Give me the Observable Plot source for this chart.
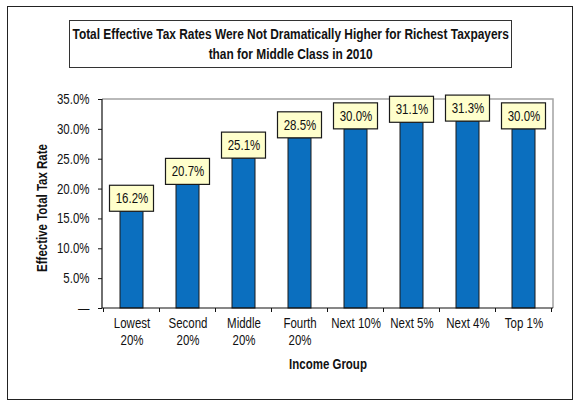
<!DOCTYPE html>
<html>
<head>
<meta charset="utf-8">
<script src="https://cdn.jsdelivr.net/npm/d3@7"></script>
<script src="https://cdn.jsdelivr.net/npm/@observablehq/plot@0.6"></script>
<style>
  html, body { margin: 0; padding: 0; background: #fff; }
  #wrap { position: relative; width: 580px; height: 410px; overflow: hidden;
          font-family: "Liberation Sans", Arial, sans-serif; }
  #outer { position: absolute; left: 7px; top: 6px; width: 564px; height: 392px;
           border: 1.5px solid #222; box-sizing: content-box; pointer-events: none; }
  #title { position: absolute; left: 69px; top: 20px; width: 443px; height: 48px; box-sizing: border-box;
           border: 1.5px solid #333; background: #fff; display: flex; align-items: center; justify-content: center;
           text-align: center; font-weight: bold; font-size: 14px; line-height: 20px; color: #111; }
  #title > div { transform: scaleX(0.85); white-space: nowrap; }
  #chart { position: absolute; left: 0; top: 0; }
</style>
</head>
<body>
<div id="wrap">
  <div id="chart"></div>
  <div id="outer"></div>
  <div id="title"><div>Total Effective Tax Rates Were Not Dramatically Higher for Richest Taxpayers<br>than for Middle Class in 2010</div></div>
</div>
<script>
const groups = ["Lowest 20%", "Second 20%", "Middle 20%", "Fourth 20%", "Next 10%", "Next 5%", "Next 4%", "Top 1%"];
const tickLabels = ["Lowest\n20%", "Second\n20%", "Middle\n20%", "Fourth\n20%", "Next 10%", "Next 5%", "Next 4%", "Top 1%"];
const rates = [16.2, 20.7, 25.1, 28.5, 30.0, 31.1, 31.3, 30.0];
const yTicks = [0, 5, 10, 15, 20, 25, 30, 35];
const yTitle = "Effective Total Tax Rate";
const xTitle = "Income Group";

const data = groups.map((g, i) => ({
  group: g,
  rate: rates[i],
  line1: tickLabels[i].split("\n")[0],
  line2: tickLabels[i].split("\n")[1] || ""
}));

const FONT = '"Liberation Sans", Arial, sans-serif';
const NARROW = 0.82; // horizontal squeeze to mimic a narrow typeface

function bandInfo(x) {
  const bw = typeof x.bandwidth === "function" ? x.bandwidth() : x.bandwidth;
  const step = x(groups[1]) - x(groups[0]);
  return {bw, step};
}

// gray plot-area frame (top and right)
function grayFrame(index, scales, values, dims) {
  const L = dims.marginLeft, R = dims.width - dims.marginRight;
  const T = dims.marginTop, B = dims.height - dims.marginBottom;
  const g = d3.create("svg:g");
  g.append("path")
    .attr("d", `M${L},${T}H${R}V${B}`)
    .attr("fill", "none").attr("stroke", "#a3a3a3").attr("stroke-width", 1.5);
  return g.node();
}

// black left/bottom axes and category boundary ticks
function blackAxes(index, scales, values, dims) {
  const L = dims.marginLeft, R = dims.width - dims.marginRight;
  const T = dims.marginTop, B = dims.height - dims.marginBottom;
  const x = scales.x;
  const {bw, step} = bandInfo(x);
  const g = d3.create("svg:g").attr("stroke", "#111").attr("fill", "none");
  g.append("path").attr("d", `M${L},${T}V${B}H${R}`).attr("stroke-width", 1.2);
  const bounds = groups.map(c => x(c) + bw / 2 - step / 2);
  bounds.push(x(groups[groups.length - 1]) + bw / 2 + step / 2);
  for (const b of bounds) {
    g.append("line").attr("x1", b).attr("x2", b).attr("y1", B).attr("y2", B + 4).attr("stroke-width", 1);
  }
  return g.node();
}

const chart = Plot.plot({
  width: 580,
  height: 410,
  marginTop: 99,
  marginRight: 27,
  marginBottom: 102,
  marginLeft: 102,
  style: {fontFamily: FONT, fontSize: "14px", color: "#111", background: "transparent"},
  x: {domain: groups, paddingInner: 0.59, paddingOuter: 0.295, axis: null},
  y: {domain: [0, 35], axis: null},
  marks: [
    grayFrame,
    Plot.barY(data, {x: "group", y: "rate", fill: "#0b6fbf", stroke: "#1a1a1a", strokeWidth: 1}),
    Plot.barY(data, {x: "group", y1: "rate", y2: "rate", insetTop: -26, insetLeft: -10.5, insetRight: -10.5,
                     fill: "#ffffcc", stroke: "#1a1a1a", strokeWidth: 1.2}),
    Plot.text(data, {x: "group", y: "rate", text: d => d.rate.toFixed(1) + "%", dy: -13, fontSize: 14, fill: "#111"}),
    Plot.axisY({ticks: yTicks, tickSize: 4, tickPadding: 9, fontSize: 14, label: null,
                tickFormat: d => d === 0 ? "—" : d.toFixed(1) + "%"}),
    Plot.text([yTitle], {frameAnchor: "left", textAnchor: "middle", rotate: -90, dx: -60, dy: 4,
                         fontWeight: "bold", fontSize: 14, fill: "#111"}),
    Plot.text(data, {x: "group", text: "line1", frameAnchor: "bottom", dy: 19.5, fontSize: 14, fill: "#111"}),
    Plot.text(data, {x: "group", text: "line2", frameAnchor: "bottom", dy: 36.5, fontSize: 14, fill: "#111"}),
    Plot.text([xTitle], {frameAnchor: "bottom", dy: 60.5, fontWeight: "bold", fontSize: 14, fill: "#111"}),
    blackAxes
  ]
});

// squeeze each text horizontally about its own anchor (keeps it real text)
chart.querySelectorAll("text").forEach(t => {
  const tr = t.getAttribute("transform");
  if (tr) t.setAttribute("transform", tr + ` scale(${NARROW},1)`);
});

document.getElementById("chart").appendChild(chart);
</script>
</body>
</html>
